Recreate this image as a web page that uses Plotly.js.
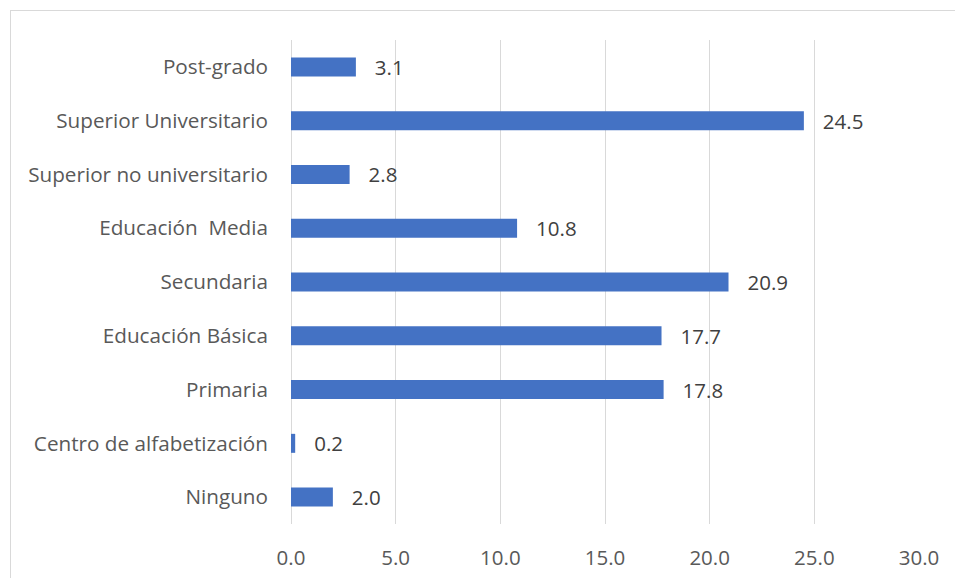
<!DOCTYPE html>
<html>
<head>
<meta charset="utf-8">
<script src="https://cdn.plot.ly/plotly-3.0.1.min.js"></script>
<style>
html,body{margin:0;padding:0;background:#fff;}
#wrap{position:absolute;left:0;top:0;width:955px;height:578px;}
#frame{position:absolute;left:10px;top:10px;width:960px;height:590px;border-left:1px solid #d9d9d9;border-top:1px solid #d9d9d9;pointer-events:none;}
#chart{position:absolute;left:0;top:0;width:955px;height:578px;}
</style>
</head>
<body>
<div id="wrap"><div id="chart"></div><div id="frame"></div></div>
<script>
const categories = [
  "Ninguno",
  "Centro de alfabetización",
  "Primaria",
  "Educación Básica",
  "Secundaria",
  "Educación\u00A0 Media",
  "Superior no universitario",
  "Superior Universitario",
  "Post-grado"
];
const values = [2.0, 0.2, 17.8, 17.7, 20.9, 10.8, 2.8, 24.5, 3.1];
const xTicks = [0, 5, 10, 15, 20, 25, 30];

const font = "Open Sans, Liberation Sans, sans-serif";
const trace = {
  type: "bar",
  orientation: "h",
  y: categories,
  x: values,
  marker: {color: "#4472c4"},
  text: values.map(v => "\u00A0\u00A0\u00A0" + v.toFixed(1)),
  textposition: "outside",
  constraintext: "none",
  textfont: {family: font, size: 20.5, color: "#404040"},
  cliponaxis: false,
  hoverinfo: "none"
};
const layout = {
  width: 955, height: 578,
  margin: {l: 291, r: 36, t: 40, b: 54},
  paper_bgcolor: "#fff", plot_bgcolor: "#fff",
  bargap: 0.647,
  showlegend: false,
  xaxis: {
    range: [0, 30],
    tickvals: xTicks,
    ticktext: xTicks.map(v => v.toFixed(1)),
    showgrid: true, gridcolor: "#d9d9d9", gridwidth: 1,
    zeroline: true, zerolinecolor: "#d9d9d9", zerolinewidth: 1,
    showline: false, ticks: "",
    ticklabelstandoff: 19,
    tickfont: {family: font, size: 20.5, color: "#595959"},
    fixedrange: true
  },
  yaxis: {
    type: "category",
    categoryorder: "array", categoryarray: categories,
    showgrid: false, zeroline: false, showline: false, ticks: "",
    ticklabelstandoff: 22,
    tickfont: {family: font, size: 20.7, color: "#595959"},
    fixedrange: true
  }
};
Plotly.newPlot("chart", [trace], layout, {displayModeBar: false, staticPlot: true});
</script>
</body>
</html>
